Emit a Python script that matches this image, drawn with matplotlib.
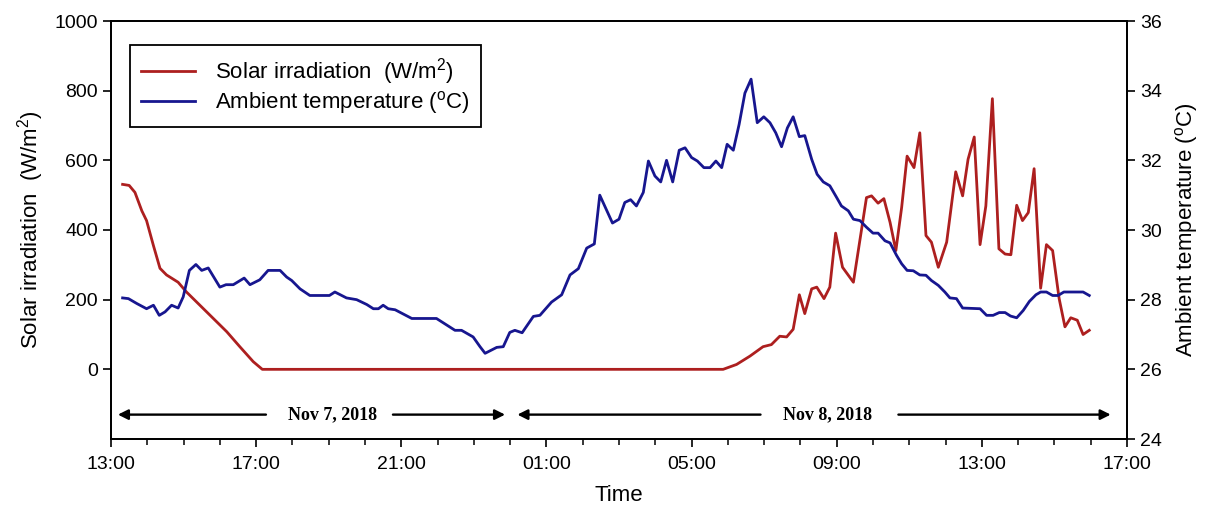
import matplotlib
matplotlib.use("Agg")
import matplotlib.pyplot as plt

plt.rcParams['font.family'] = ['Liberation Sans', 'DejaVu Sans']
plt.rcParams['mathtext.fontset'] = 'custom'
plt.rcParams['mathtext.rm'] = 'Liberation Sans'

# hours since 13:00 on Nov 7, 2018
solar_hours = [0.32, 0.5, 0.66, 0.85, 0.98, 1.17, 1.35, 1.53, 1.85, 2.08, 2.45, 2.82,
               3.19, 3.55, 3.92, 4.17, 16.87, 17.24, 17.61, 17.97, 18.2, 18.43, 18.62,
               18.8, 18.97, 19.12, 19.31, 19.45, 19.65, 19.81, 19.97, 20.16, 20.46,
               20.82, 20.96, 21.14, 21.3, 21.47, 21.63, 21.79, 21.94, 22.13, 22.29,
               22.46, 22.61, 22.8, 23.03, 23.28, 23.47, 23.62, 23.79, 23.95, 24.11,
               24.29, 24.47, 24.64, 24.8, 24.96, 25.12, 25.28, 25.44, 25.62, 25.78,
               25.95, 26.13, 26.29, 26.45, 26.63, 26.79, 26.96]
solar_wm2 = [531, 528, 508, 455, 427, 355, 290, 271, 250, 222, 184, 146,
             108, 65, 22, 0, 0, 14, 38, 65, 71, 95, 93,
             115, 214, 160, 231, 236, 203, 236, 391, 293, 250,
             493, 498, 477, 490, 422, 341, 465, 612, 579, 679,
             384, 365, 293, 365, 567, 498, 603, 667, 358, 469,
             777, 346, 331, 329, 471, 427, 450, 576, 233, 358,
             341, 203, 122, 148, 141, 100, 112]

temp_hours = [0.32, 0.48, 0.71, 0.98, 1.17, 1.33, 1.49, 1.67, 1.85, 1.99, 2.16, 2.34,
              2.5, 2.68, 3.0, 3.17, 3.37, 3.67, 3.83, 4.1, 4.33, 4.66, 4.84, 4.98,
              5.21, 5.48, 5.76, 6.02, 6.17, 6.49, 6.77, 7.05, 7.23, 7.37, 7.5, 7.64,
              7.83, 8.29, 8.97, 9.48, 9.66, 9.98, 10.17, 10.31, 10.63, 10.81, 10.99,
              11.13, 11.33, 11.64, 11.82, 12.14, 12.42, 12.65, 12.88, 13.11, 13.32,
              13.47, 13.82, 14.0, 14.16, 14.32, 14.48, 14.67, 14.81, 14.99, 15.15,
              15.31, 15.48, 15.66, 15.82, 16.0, 16.16, 16.34, 16.51, 16.67, 16.83,
              16.98, 17.15, 17.31, 17.47, 17.64, 17.81, 17.99, 18.16, 18.32, 18.48,
              18.64, 18.8, 18.97, 19.12, 19.31, 19.46, 19.63, 19.81, 20.0, 20.13,
              20.32, 20.46, 20.64, 20.82, 21.0, 21.14, 21.33, 21.47, 21.65, 21.79,
              21.94, 22.11, 22.29, 22.46, 22.61, 22.8, 22.98, 23.12, 23.3, 23.47,
              23.95, 24.13, 24.31, 24.48, 24.64, 24.79, 24.96, 25.14, 25.31, 25.49,
              25.62, 25.78, 25.95, 26.1, 26.26, 26.79, 26.96]
temp_c = [28.05, 28.03, 27.89, 27.74, 27.84, 27.55, 27.65, 27.84, 27.76, 28.08, 28.84, 29.01,
          28.84, 28.91, 28.36, 28.43, 28.43, 28.62, 28.43, 28.57, 28.84, 28.84, 28.65, 28.55,
          28.31, 28.12, 28.12, 28.12, 28.22, 28.05, 28.0, 27.86, 27.74, 27.74, 27.84, 27.74,
          27.71, 27.46, 27.46, 27.12, 27.12, 26.93, 26.65, 26.46, 26.63, 26.65, 27.06,
          27.12, 27.05, 27.52, 27.55, 27.93, 28.14, 28.71, 28.89, 29.48, 29.6,
          31.0, 30.2, 30.31, 30.79, 30.87, 30.69, 31.08, 31.98, 31.55, 31.38,
          32.0, 31.38, 32.29, 32.36, 32.08, 31.98, 31.79, 31.79, 31.98, 31.79,
          32.46, 32.29, 33.03, 33.93, 34.33, 33.08, 33.25, 33.08, 32.79, 32.39,
          32.93, 33.25, 32.68, 32.71, 32.03, 31.6, 31.38, 31.27, 30.93, 30.69,
          30.55, 30.31, 30.27, 30.08, 29.91, 29.91, 29.69, 29.63, 29.27, 29.03,
          28.84, 28.83, 28.71, 28.7, 28.55, 28.41, 28.22, 28.05, 28.03, 27.76,
          27.74, 27.55, 27.55, 27.63, 27.63, 27.53, 27.48, 27.69, 27.95, 28.14,
          28.22, 28.22, 28.12, 28.12, 28.22, 28.22, 28.12]

tick_hours = [0, 4, 8, 12, 16, 20, 24, 28]
tick_labels = ["13:00", "17:00", "21:00", "01:00", "05:00", "09:00", "13:00", "17:00"]

red = '#ad1f1f'
blue = '#17168f'

fig = plt.figure(figsize=(12.11, 5.09), dpi=100)
ax = fig.add_axes([111 / 1211, 1 - 439 / 509, 1016 / 1211, 418 / 509])
ax2 = ax.twinx()

l1, = ax.plot(solar_hours, solar_wm2, color=red, lw=2.0,
              label=r'Solar irradiation  (W/m$^{\mathregular{2}}$)')
l2, = ax2.plot(temp_hours, temp_c, color=blue, lw=2.0,
               label=r'Ambient temperature ($^{\mathregular{o}}$C)')

ax.set_xlim(0, 28)
ax.set_ylim(-200, 1000)
ax.set_yticks([0, 200, 400, 600, 800, 1000])
ax2.set_ylim(24, 36)
ax2.set_yticks(range(24, 37, 2))
ax.set_xticks(tick_hours)
ax.set_xticklabels(tick_labels)
ax.set_xticks(range(29), minor=True)

for a in (ax, ax2):
    for s in a.spines.values():
        s.set_linewidth(1.3)
    a.tick_params(which='major', direction='out', length=6, width=1.2, labelsize=14)
    a.tick_params(which='minor', direction='out', length=4, width=1.1)
ax.tick_params(axis='x', which='major', pad=6)

ax.set_xlabel('Time', fontsize=16, labelpad=9)
ax.set_ylabel(r'Solar irradiation  (W/m$^{\mathregular{2}}$)', fontsize=16, labelpad=6)
ax2.set_ylabel(r'Ambient temperature ($^{\mathregular{o}}$C)', fontsize=16, labelpad=8)

# date arrows
arrow_y = -130
date_font = dict(family=['Liberation Serif'], fontweight='bold', fontsize=13)
arrow_kw = dict(arrowstyle='-|>', color='black', lw=1.7, mutation_scale=15,
                shrinkA=0, shrinkB=0)
ax.annotate('', xy=(0.19, arrow_y), xytext=(4.27, arrow_y), arrowprops=arrow_kw)
ax.annotate('', xy=(10.86, arrow_y), xytext=(7.77, arrow_y), arrowprops=arrow_kw)
ax.text(6.1, arrow_y, 'Nov 7, 2018', ha='center', va='center', **date_font)
ax.annotate('', xy=(11.2, arrow_y), xytext=(17.9, arrow_y), arrowprops=arrow_kw)
ax.annotate('', xy=(27.55, arrow_y), xytext=(21.7, arrow_y), arrowprops=arrow_kw)
ax.text(19.75, arrow_y, 'Nov 8, 2018', ha='center', va='center', **date_font)

leg = ax2.legend(handles=[l1, l2], loc='upper left', bbox_to_anchor=(0.019, 0.943),
                 borderaxespad=0, fontsize=16, handlelength=2.4, handletextpad=0.9,
                 labelspacing=0.1, borderpad=0.5, fancybox=False, framealpha=1,
                 edgecolor='black')
leg.get_frame().set_linewidth(1.3)

fig.savefig('out.png', dpi=100)
